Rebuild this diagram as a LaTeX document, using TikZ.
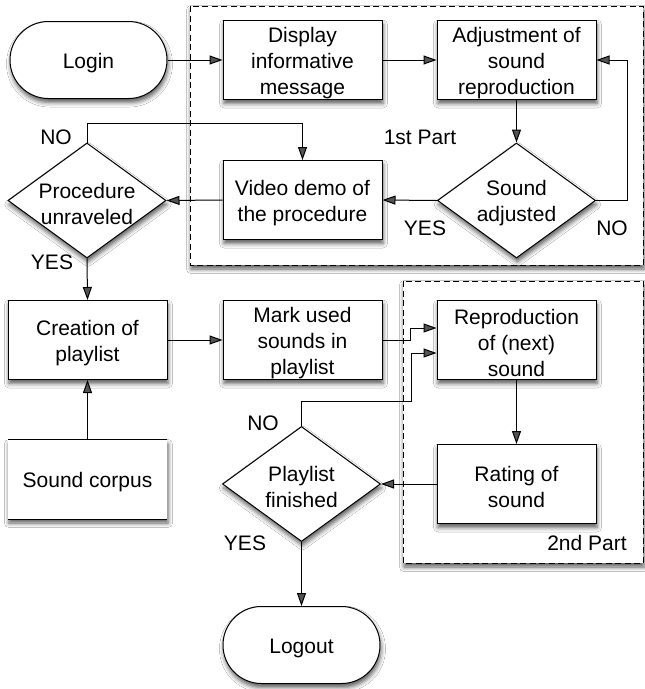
\documentclass[tikz,border=0pt]{standalone}
\usepackage{fontspec}
\setmainfont{Liberation Sans}
\usetikzlibrary{shapes.geometric,shapes.misc,arrows.meta,shadows.blur,calc}
\begin{document}
\begin{tikzpicture}[x=1pt,y=-1pt,
  font=\fontsize{21}{26}\selectfont,
  shade/.style={blur shadow={shadow xshift=1pt,shadow yshift=-4pt,shadow blur radius=4.5pt,shadow opacity=65}},
  txt/.style={label={[align=center,yshift=-3pt]center:#1}},
  procbox/.style={draw,line width=1pt,fill=white,shade,minimum width=159pt,minimum height=79pt,inner sep=0pt},
  termbox/.style={rounded rectangle,draw,line width=1pt,fill=white,shade,minimum width=157pt,minimum height=77pt,inner sep=0pt},
  decbox/.style={diamond,draw,line width=1pt,fill=white,shade,minimum width=158pt,minimum height=115pt,inner sep=0pt},
  storebox/.style={fill=white,shade,minimum width=159pt,minimum height=79pt,inner sep=0pt},
  regionbox/.style={draw,line width=0.9pt,dash pattern=on 6pt off 3.5pt,fill=white,shade},
  flow/.style={line width=1pt,-{Triangle[length=13pt,width=9pt]}},
  plain/.style={line width=1pt},
  tag/.style={inner sep=0pt}
]
\useasboundingbox (0,0) rectangle (645,689);
\fill[white] (0,0) rectangle (645,689);

% regions
\path[regionbox] (190,6) rectangle (643,265);
\path[regionbox] (403,281) rectangle (643,563);

% nodes
\node[termbox,txt={Login}] (login) at (88.5,60) {};
\node[procbox,txt={Display\\informative\\message}] (display) at (302.5,60) {};
\node[procbox,txt={Adjustment of\\sound\\reproduction}] (adjust) at (516.5,60) {};
\node[decbox,txt={Sound\\adjusted}] (sa) at (516.5,200.5) {};
\node[procbox,txt={Video demo of\\the procedure}] (video) at (302.5,200) {};
\node[decbox,txt={Procedure\\unraveled}] (pu) at (87,200.5) {};
\node[procbox,txt={Creation of\\playlist}] (creation) at (87.5,340) {};
\node[storebox,txt={Sound corpus}] (sc) at (87.5,479.5) {};
\draw[plain] (sc.north west) -- (sc.north east);
\draw[plain] (sc.south west) -- (sc.south east);
\node[procbox,txt={Mark used\\sounds in\\playlist}] (mark) at (302.5,340) {};
\node[procbox,txt={Reproduction\\of (next)\\sound}] (repro) at (516.5,340) {};
\node[procbox,txt={Rating of\\sound}] (rating) at (516.5,484) {};
\node[decbox,txt={Playlist\\finished}] (pf) at (301.5,484) {};
\node[termbox,txt={Logout}] (logout) at (301.5,645) {};

% labels
\node[tag] (l1) at (420,137) {1st Part};
\node[tag] (l2) at (587,543) {2nd Part};
\node[tag] (saYes) at (425,228) {YES};
\node[tag] (saNo) at (612,228) {NO};
\node[tag] (puNo) at (56,137) {NO};
\node[tag] (puYes) at (52,262) {YES};
\node[tag] (pfNo) at (263,423) {NO};
\node[tag] (pfYes) at (245,543) {YES};

% connectors
\draw[flow] (login.east) -- (display.west);
\draw[flow] (display.east) -- (adjust.west);
\draw[flow] (adjust.south) -- (sa.north);
\draw[flow] (sa.east) -- ++(31,0) |- (adjust.east);
\draw[flow] (sa.west) -- (video.east);
\draw[flow] (video.west) -- (pu.east);
\draw[flow] (pu.north) -- ++(0,-19) -| (video.north);
\draw[flow] (pu.south) -- (creation.north);
\draw[flow] (sc.north) -- (creation.south);
\draw[flow] (creation.east) -- (mark.west);
\draw[flow] (mark.east) -- ++(28,0) |- ([yshift=12pt]repro.west);
\draw[flow] (pf.north) -- ++(0,-25) -- ++(110,0) |- ([yshift=-13pt]repro.west);
\draw[flow] (repro.south) -- (rating.north);
\draw[flow] (rating.west) -- (pf.east);
\draw[flow] (pf.south) -- (logout.north);
\end{tikzpicture}
\end{document}
